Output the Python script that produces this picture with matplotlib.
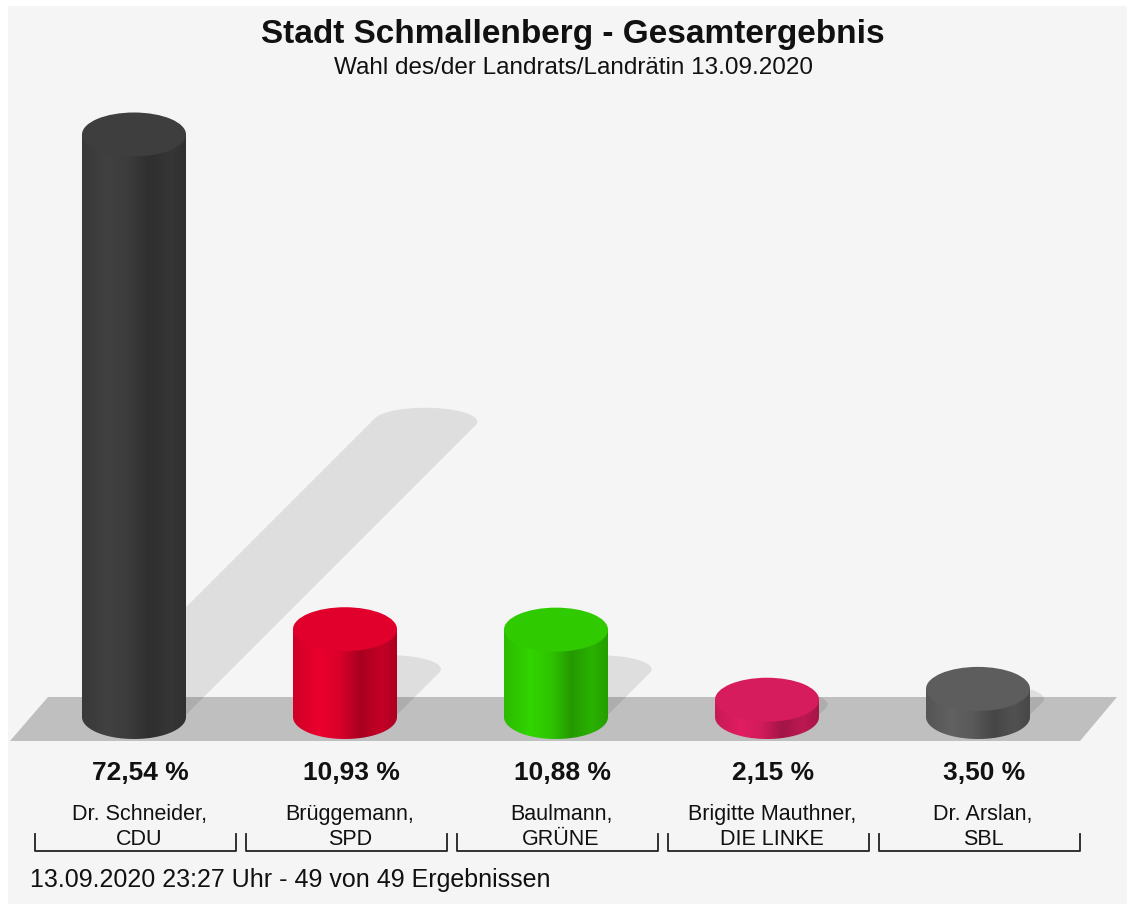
import numpy as np
import matplotlib.pyplot as plt
from matplotlib.patches import Rectangle, Polygon, Ellipse
from matplotlib.colors import to_rgb

plt.rcParams['font.family'] = ['Liberation Sans', 'DejaVu Sans']

# data
candidates = ["Dr. Schneider,\nCDU", "Brüggemann,\nSPD", "Baulmann,\nGRÜNE",
              "Brigitte Mauthner,\nDIE LINKE", "Dr. Arslan,\nSBL"]
shares = [72.54, 10.93, 10.88, 2.15, 3.50]
colors = ["#3c3c3c", "#d9002a", "#2ec500", "#d11b5a", "#5a5a5a"]
title = "Stadt Schmallenberg - Gesamtergebnis"
subtitle = "Wahl des/der Landrats/Landrätin 13.09.2020"
footer = "13.09.2020 23:27 Uhr - 49 von 49 Ergebnissen"

# layout (pixel space)
W, H = 1133, 907
base_y = 717
px_per_pct = 8.03
r, e = 52, 22
x_first, step = 134, 211

fig = plt.figure(figsize=(W / 100, H / 100), dpi=100)
ax = fig.add_axes([0, 0, 1, 1])
ax.axis('off')
fig.patch.set_facecolor('white')

ax.add_patch(Rectangle((8, 6), 1119, 898, facecolor='#f5f5f5', edgecolor='none', zorder=0))
# floor
ax.add_patch(Polygon([(48, 697), (1117, 697), (1080, 741), (10, 741)],
                     facecolor='#bfbfbf', edgecolor='none', zorder=1))


def shadow_path(cx, cy, dx, dy, es=14, n=200):
    # ellipse swept along (dx, dy)
    t = np.linspace(0, 2 * np.pi, n, endpoint=False)
    px, py = r * np.cos(t), es * np.sin(t)
    nx, ny = np.cos(t) / r, np.sin(t) / es
    shift = (nx * dx + ny * dy) > 0
    return np.column_stack([cx + px + shift * dx, cy + py + shift * dy])


def shade(u):
    return np.interp(u, [0, 0.25, 0.45, 0.65, 0.85, 1.0], [0.95, 1.08, 1.0, 0.78, 0.9, 0.8])


xs = [x_first + i * step for i in range(len(shares))]

for x, v in zip(xs, shares):
    h = v * px_per_pct
    pts = shadow_path(x, base_y - 4, 0.5 * h, -0.5 * h)
    ax.add_patch(Polygon(pts, facecolor='black', alpha=0.09, edgecolor='none', zorder=2))

for x, v, c in zip(xs, shares, colors):
    h = v * px_per_pct
    top = base_y - h
    t = np.linspace(0, np.pi, 100)
    body = np.vstack([[[x - r, top]], [[x + r, top]],
                      np.column_stack([x + r * np.cos(t), base_y + e * np.sin(t)])])
    patch = Polygon(body, facecolor='none', edgecolor='none', zorder=3)
    ax.add_patch(patch)
    u = np.linspace(0, 1, 200)
    rgb = np.clip(np.outer(shade(u), to_rgb(c)), 0, 1)[None, :, :]
    im = ax.imshow(rgb, extent=(x - r, x + r, base_y + e, top), aspect='auto',
                   interpolation='bilinear', zorder=3)
    im.set_clip_path(patch)
    topc = np.clip(np.array(to_rgb(c)) * 1.03, 0, 1)
    ax.add_patch(Ellipse((x, top), 2 * r, 2 * e, facecolor=topc, edgecolor='none', zorder=4))

# labels
for i, (x, v, name) in enumerate(zip(xs, shares, candidates)):
    ax.text(x + 6, 773, f"{v:.2f}".replace('.', ',') + " %", ha='center', va='center',
            fontsize=19, fontweight='bold', color='#111111')
    ax.text(x + 5, 827, name, ha='center', va='center', fontsize=15.5,
            linespacing=1.2, color='#111111')
    left, right = 35 + i * 211, 236 + i * 211
    ax.plot([left, left, right, right], [834, 851, 851, 834], color='#222222', lw=1.3)

ax.text(573, 34, title, ha='center', va='center', fontsize=24, fontweight='bold', color='#111111')
ax.text(573, 68, subtitle, ha='center', va='center', fontsize=17.5, color='#111111')
ax.text(30, 880, footer, ha='left', va='center', fontsize=18, color='#111111')

ax.set_xlim(0, W)
ax.set_ylim(H, 0)
fig.savefig('out.png', dpi=100, facecolor='white')
